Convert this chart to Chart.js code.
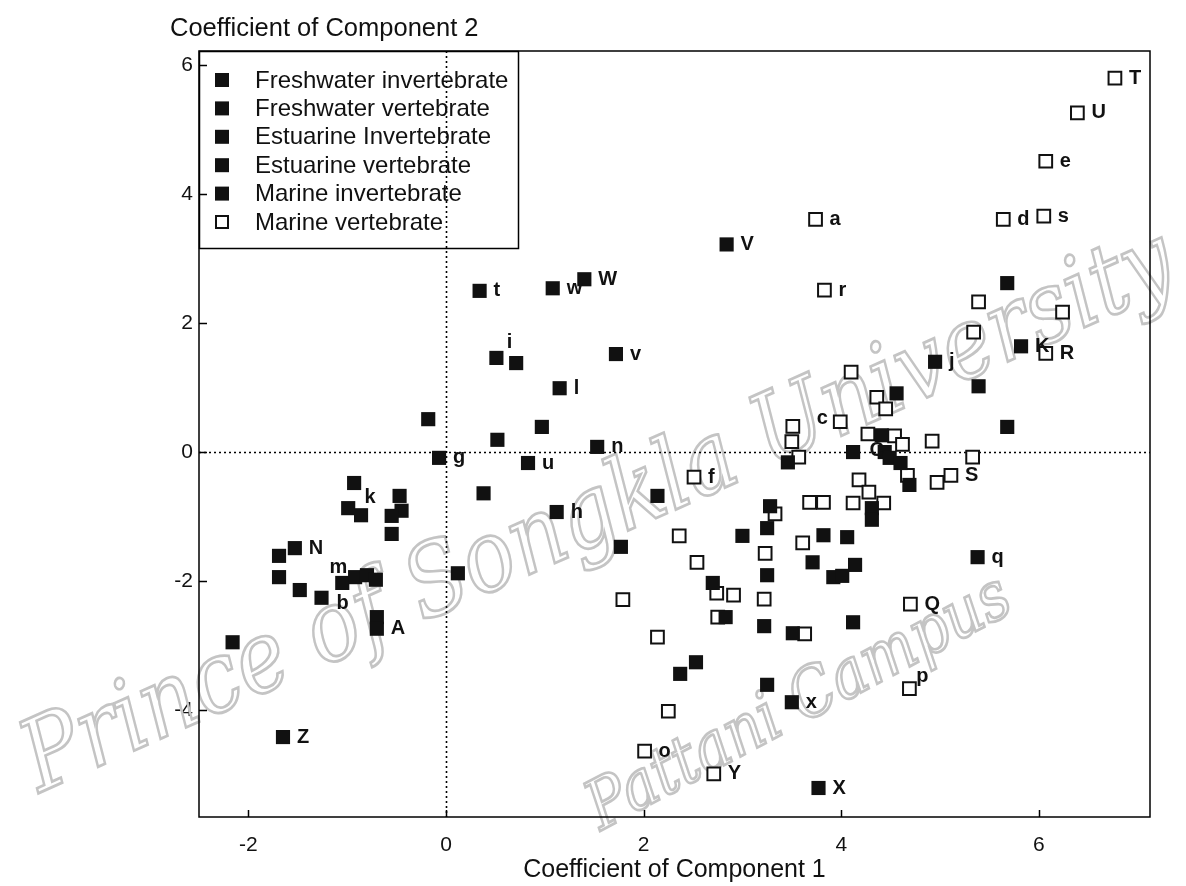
<!DOCTYPE html>
<html>
<head>
<meta charset="utf-8">
<script src="https://cdn.jsdelivr.net/npm/chart.js@4.4.1/dist/chart.umd.min.js"></script>
<style>
  html, body { margin: 0; padding: 0; background: #ffffff; }
  #wrap { width: 1186px; height: 886px; }
</style>
</head>
<body>
<div id="wrap"><canvas id="c" width="1186" height="886"></canvas></div>
<script>
// ---------- data ----------
const xTicks = [-2, 0, 2, 4, 6];
const yTicks = [-4, -2, 0, 2, 4, 6];
const xTitle = 'Coefficient of Component 1';
const yTitle = 'Coefficient of Component 2';
const categories = ['Freshwater invertebrate', 'Freshwater vertebrate', 'Estuarine Invertebrate',
                    'Estuarine vertebrate', 'Marine invertebrate', 'Marine vertebrate'];

const fwInvX = [-0.93, -0.99, -0.86, -0.47, -0.45, -0.55, -0.55, -1.53, -1.69, -1.69, -1.48, -1.26, -1.05, -0.92, -0.80, -0.71, -0.70, -0.70, -2.16, -1.65, -0.18, -0.07];
const fwInvY = [-0.48, -0.87, -0.98, -0.68, -0.91, -0.99, -1.27, -1.49, -1.61, -1.94, -2.14, -2.26, -2.03, -1.94, -1.91, -1.98, -2.56, -2.74, -2.95, -4.42, 0.51, -0.09];
const fwInvLab = ['k', '', '', '', '', '', '', 'N', '', '', '', 'b', 'm', '', '', '', '', 'A', '', 'Z', '', 'g'];

const fwVertX = [0.34, 1.08, 1.40, 2.84, 0.51, 0.71, 1.72, 1.15, 0.52, 0.97, 0.83, 1.53, 0.38, 1.12, 2.14, 1.77, 0.12];
const fwVertY = [2.50, 2.54, 2.68, 3.22, 1.46, 1.38, 1.52, 0.99, 0.19, 0.39, -0.17, 0.08, -0.64, -0.93, -0.68, -1.47, -1.88];
const fwVertLab = ['t', 'w', 'W', 'V', 'i', '', 'v', 'l', '', '', 'u', 'n', '', 'h', '', '', ''];

const estInvX = [3.00, 2.70, 2.83, 2.53, 2.37, 3.25, 3.50, 3.77, 3.25, 3.22, 3.51];
const estInvY = [-1.30, -2.03, -2.56, -3.26, -3.44, -3.61, -3.88, -5.21, -1.91, -2.70, -2.81];
const estInvLab = ['', '', '', '', '', '', 'x', 'X', '', '', ''];

const estVertX = [3.28, 3.25, 3.82, 4.06, 3.71, 3.92, 4.01, 4.14, 4.12, 3.46];
const estVertY = [-0.84, -1.18, -1.29, -1.32, -1.71, -1.94, -1.92, -1.75, -2.64, -0.16];
const estVertLab = ['', '', '', '', '', '', '', '', '', ''];

const marInvX = [4.12, 4.56, 4.95, 5.39, 5.82, 5.68, 5.68, 4.41, 4.44, 4.49, 4.60, 4.69, 4.31, 4.31, 5.38];
const marInvY = [0.00, 0.91, 1.40, 1.02, 1.64, 0.39, 2.62, 0.26, 0.00, -0.09, -0.17, -0.51, -0.87, -1.05, -1.63];
const marInvLab = ['', '', 'j', '', 'K', '', '', '', 'C', '', '', '', '', '', 'q'];

const marVertX = [6.77, 6.39, 6.07, 5.64, 6.05, 5.39, 6.24, 5.34, 6.07, 3.74, 3.83, 4.10, 3.99, 3.51, 3.50, 3.57, 2.51, 4.36, 4.45, 4.27, 4.54, 4.62, 4.92, 5.33, 5.11, 4.97, 4.67, 4.18, 4.28, 4.12, 4.43, 3.68, 3.82, 3.33, 3.61, 3.23, 2.36, 2.54, 1.79, 2.74, 2.91, 3.22, 2.75, 2.14, 3.63, 2.25, 2.01, 2.71, 4.69, 4.70];
const marVertY = [5.80, 5.26, 4.51, 3.61, 3.66, 2.33, 2.17, 1.86, 1.53, 3.61, 2.51, 1.24, 0.47, 0.40, 0.16, -0.08, -0.39, 0.85, 0.67, 0.28, 0.25, 0.12, 0.17, -0.08, -0.36, -0.47, -0.36, -0.43, -0.62, -0.79, -0.79, -0.78, -0.78, -0.96, -1.41, -1.57, -1.30, -1.71, -2.29, -2.19, -2.22, -2.28, -2.56, -2.87, -2.82, -4.02, -4.64, -4.99, -3.67, -2.36];
const marVertLab = ['T', 'U', 'e', 'd', 's', '', '', '', 'R', 'a', 'r', '', 'c', '', '', '', 'f', '', '', '', '', '', '', '', 'S', '', '', '', '', '', '', '', '', '', '', '', '', '', '', '', '', '', '', '', '', '', 'o', 'Y', 'p', 'Q'];

const watermark1 = 'Prince of Songkla University';
const watermark2 = 'Pattani Campus';

// ---------- styling / layout (not data) ----------
const FONT = '"Liberation Sans", Arial, sans-serif';
// special label anchors: offset of label centre from point centre (px)
const labelAnchor = { i: [13, -15], k: [16, 14], m: [-4, -15], b: [21, 6], c: [-18, -3], p: [13, -12], C: [-8, -2] };

function pts(xs, ys) { return xs.map((x, i) => ({ x: x, y: ys[i] })); }
function filledSet(label, xs, ys, labs) {
  return { label, data: pts(xs, ys), pointLabels: labs, pointStyle: 'rect', pointRadius: 10,
           backgroundColor: '#111111', borderColor: '#111111', borderWidth: 0, open: false };
}
const datasets = [
  filledSet(categories[0], fwInvX, fwInvY, fwInvLab),
  filledSet(categories[1], fwVertX, fwVertY, fwVertLab),
  filledSet(categories[2], estInvX, estInvY, estInvLab),
  filledSet(categories[3], estVertX, estVertY, estVertLab),
  filledSet(categories[4], marInvX, marInvY, marInvLab),
  { label: categories[5], data: pts(marVertX, marVertY), pointLabels: marVertLab, pointStyle: 'rect',
    pointRadius: 9, backgroundColor: '#ffffff', borderColor: '#111111', borderWidth: 2, open: true }
];
datasets[5].order = 1;
for (let i = 0; i < 5; i++) datasets[i].order = 0;

const decor = {
  id: 'decor',
  beforeDatasetsDraw(chart) {
    const ctx = chart.ctx, a = chart.chartArea;
    const xs = chart.scales.x, ys = chart.scales.y;
    ctx.save();
    // watermark
    function wm(text, cx, cy, ang, targetW, vStretch) {
      ctx.save();
      ctx.font = 'italic 100px "DejaVu Serif", serif';
      const w = ctx.measureText(text).width;
      const k = targetW / w;
      ctx.translate(cx, cy);
      ctx.rotate(ang * Math.PI / 180);
      ctx.scale(k, k * vStretch);
      ctx.textAlign = 'center';
      ctx.textBaseline = 'middle';
      ctx.strokeStyle = '#c4c4c4';
      ctx.lineWidth = 2.4 / k;
      ctx.strokeText(text, 0, 0);
      ctx.restore();
    }
    wm(watermark1, 600, 515, -24, 1250, 1.15);
    wm(watermark2, 800, 705, -28, 470, 1.15);

    // legend box fill
    const lx = a.left, ly = a.top, lw = 319, lh = 197;
    ctx.fillStyle = '#ffffff';
    ctx.fillRect(lx, ly, lw, lh);

    // dotted zero lines
    ctx.strokeStyle = '#000';
    ctx.lineWidth = 1.6;
    ctx.setLineDash([2, 3]);
    const x0 = Math.round(xs.getPixelForValue(0)) + 0.5;
    const y0 = Math.round(ys.getPixelForValue(0)) + 0.5;
    ctx.beginPath();
    ctx.moveTo(x0, a.top); ctx.lineTo(x0, a.bottom);
    ctx.moveTo(a.left, y0); ctx.lineTo(a.right, y0);
    ctx.stroke();
    ctx.setLineDash([]);

    // legend entries
    ctx.font = '24px ' + FONT;
    ctx.textAlign = 'left';
    ctx.textBaseline = 'middle';
    chart.data.datasets.forEach((ds, i) => {
      const cy = 80 + i * 28.4;
      if (ds.open) {
        ctx.fillStyle = '#fff';
        ctx.strokeStyle = '#111';
        ctx.lineWidth = 2;
        ctx.fillRect(216, cy - 6, 12, 12);
        ctx.strokeRect(216, cy - 6, 12, 12);
      } else {
        ctx.fillStyle = '#111';
        ctx.fillRect(215, cy - 7, 14, 14);
      }
      ctx.fillStyle = '#111';
      ctx.fillText(ds.label, 255, cy + 1);
    });
    ctx.strokeStyle = '#000';
    ctx.lineWidth = 1.5;
    ctx.strokeRect(lx + 0.5, ly + 0.5, lw, lh);
    ctx.restore();
  },
  afterDatasetsDraw(chart) {
    const ctx = chart.ctx, a = chart.chartArea;
    ctx.save();
    // point labels
    ctx.font = 'bold 20px ' + FONT;
    ctx.fillStyle = '#111';
    ctx.textBaseline = 'middle';
    chart.data.datasets.forEach((ds, di) => {
      const meta = chart.getDatasetMeta(di);
      meta.data.forEach((el, j) => {
        const t = ds.pointLabels[j];
        if (!t) return;
        if (labelAnchor[t]) {
          ctx.textAlign = 'center';
          ctx.fillText(t, el.x + labelAnchor[t][0], el.y + labelAnchor[t][1]);
        } else {
          ctx.textAlign = 'left';
          ctx.fillText(t, el.x + 14, el.y);
        }
      });
    });
    // frame
    ctx.strokeStyle = '#000';
    ctx.lineWidth = 1.5;
    ctx.strokeRect(a.left, a.top, a.right - a.left, a.bottom - a.top);
    // inward ticks
    ctx.beginPath();
    xTicks.forEach(v => {
      const px = Math.round(chart.scales.x.getPixelForValue(v)) + 0.5;
      ctx.moveTo(px, a.bottom); ctx.lineTo(px, a.bottom - 7);
    });
    yTicks.forEach(v => {
      const py = Math.round(chart.scales.y.getPixelForValue(v)) + 0.5;
      ctx.moveTo(a.left, py); ctx.lineTo(a.left + 8, py);
    });
    ctx.stroke();
    // y axis title (horizontal, top-left)
    ctx.font = '25.5px ' + FONT;
    ctx.textAlign = 'left';
    ctx.textBaseline = 'middle';
    ctx.fillStyle = '#111';
    ctx.fillText(yTitle, 170, 29);
    ctx.restore();
  }
};

new Chart(document.getElementById('c'), {
  type: 'scatter',
  data: { datasets },
  options: {
    responsive: false,
    animation: false,
    devicePixelRatio: 1,
    layout: { padding: { left: 0, right: 36, top: 51, bottom: 0 } },
    plugins: { legend: { display: false }, tooltip: { enabled: false } },
    scales: {
      x: {
        type: 'linear', min: -2.5, max: 7.125,
        afterBuildTicks: s => { s.ticks = xTicks.map(v => ({ value: v })); },
        afterFit: s => { s.height = 69; },
        grid: { display: false, drawTicks: false },
        border: { display: false },
        ticks: { color: '#111', font: { size: 21, family: FONT }, padding: 16, callback: v => String(v) },
        title: { display: true, text: xTitle, color: '#111', font: { size: 25, family: FONT }, padding: { top: 0, bottom: 1 } }
      },
      y: {
        type: 'linear', min: -5.66, max: 6.22,
        afterBuildTicks: s => { s.ticks = yTicks.map(v => ({ value: v })); },
        afterFit: s => { s.width = 199; },
        grid: { display: false, drawTicks: false },
        border: { display: false },
        ticks: { color: '#111', font: { size: 21, family: FONT }, padding: 6, callback: v => String(v) }
      }
    }
  },
  plugins: [decor]
});
</script>
</body>
</html>
